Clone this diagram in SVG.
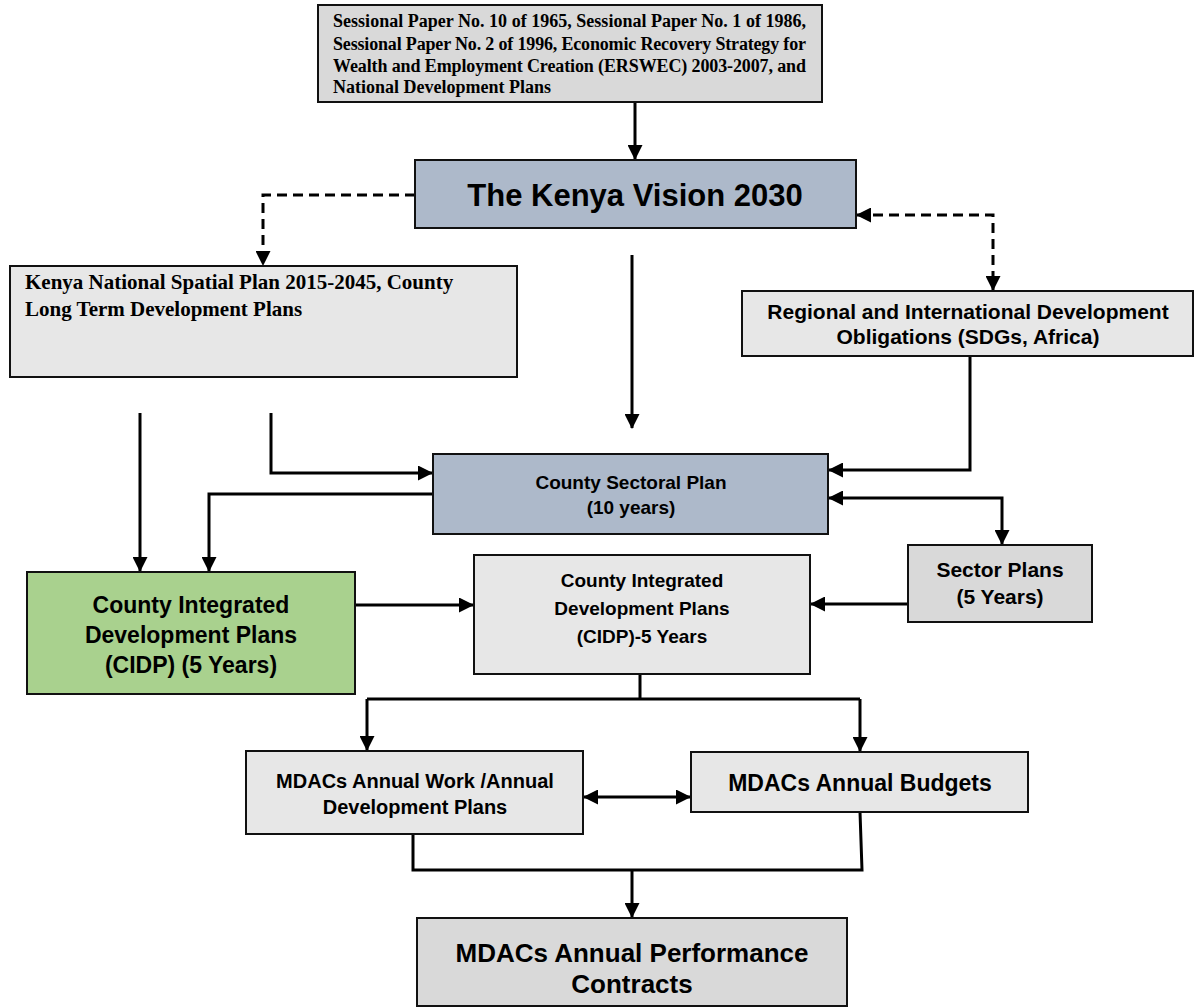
<svg xmlns="http://www.w3.org/2000/svg" width="1195" height="1008" viewBox="0 0 1195 1008">
<style>
.box{stroke:#111;stroke-width:2}
.g1{fill:#d9d9d9}.g2{fill:#e7e7e7}.bl{fill:#adb9ca}.gr{fill:#a9d18e}
.serif{font-family:"Liberation Serif","Times New Roman",serif;font-weight:bold;fill:#000}
.sans{font-family:"Liberation Sans",Arial,sans-serif;font-weight:bold;fill:#000;text-anchor:middle}
.c{fill:none;stroke:#000;stroke-width:3}
.d{stroke-dasharray:10 6}
</style>
<defs>
<marker id="ah" markerUnits="userSpaceOnUse" markerWidth="15" markerHeight="15" refX="14" refY="7.5" orient="auto-start-reverse" viewBox="0 0 15 15">
<path d="M0,0 L15,7.5 L0,15 z" fill="#000"/>
</marker>
</defs>
<g id="connectors">
<path class="c" d="M635,102 V159" marker-end="url(#ah)"/>
<path class="c d" d="M415,195 H263 V265" marker-end="url(#ah)"/>
<path class="c d" d="M857,215 H993 V290" marker-start="url(#ah)" marker-end="url(#ah)"/>
<path class="c" d="M632,255 V428" marker-end="url(#ah)"/>
<path class="c" d="M140,413 V571" marker-end="url(#ah)"/>
<path class="c" d="M271,413 V473 H432" marker-end="url(#ah)"/>
<path class="c" d="M433,494 H209 V571" marker-end="url(#ah)"/>
<path class="c" d="M970,356 V470 H829" marker-end="url(#ah)"/>
<path class="c" d="M829,498 H1002 V544" marker-start="url(#ah)" marker-end="url(#ah)"/>
<path class="c" d="M908,604 H811" marker-end="url(#ah)"/>
<path class="c" d="M355,605 H473" marker-end="url(#ah)"/>
<path class="c" d="M640,675 V699"/>
<path class="c" d="M367,699 H860"/>
<path class="c" d="M367,699 V750" marker-end="url(#ah)"/>
<path class="c" d="M860,699 V751" marker-end="url(#ah)"/>
<path class="c" d="M584,797 H690" marker-start="url(#ah)" marker-end="url(#ah)"/>
<path class="c" d="M413,834 V870 H862 L860,812"/>
<path class="c" d="M632,870 V917" marker-end="url(#ah)"/>
</g>
<g id="n-sessional">
<rect class="box g1" x="318" y="5" width="504" height="97"/>
<text class="serif" font-size="18" x="333" y="27" textLength="473" lengthAdjust="spacing">Sessional Paper No. 10 of 1965, Sessional Paper No. 1 of 1986,</text>
<text class="serif" font-size="18" x="333" y="50" textLength="473" lengthAdjust="spacing">Sessional Paper No. 2 of 1996, Economic Recovery Strategy for</text>
<text class="serif" font-size="18" x="333" y="72" textLength="473" lengthAdjust="spacing">Wealth and Employment Creation (ERSWEC) 2003-2007, and</text>
<text class="serif" font-size="18" x="333" y="93">National Development Plans</text>
</g>
<g id="n-vision">
<rect class="box bl" x="415" y="160" width="441" height="68"/>
<text class="sans" font-size="31" x="635" y="206">The Kenya Vision 2030</text>
</g>
<g id="n-spatial">
<rect class="box g2" x="10" y="266" width="507" height="111"/>
<text class="serif" font-size="21" x="25" y="289">Kenya National Spatial Plan 2015-2045, County</text>
<text class="serif" font-size="21" x="25" y="316">Long Term Development Plans</text>
</g>
<g id="n-regional">
<rect class="box g2" x="742" y="291" width="451" height="65"/>
<text class="sans" font-size="21" x="968" y="319">Regional and International Development</text>
<text class="sans" font-size="21" x="968" y="344">Obligations (SDGs, Africa)</text>
</g>
<g id="n-sectoral">
<rect class="box bl" x="433" y="454" width="395" height="80"/>
<text class="sans" font-size="19" x="631" y="489">County Sectoral Plan</text>
<text class="sans" font-size="19" x="631" y="514">(10 years)</text>
</g>
<g id="n-sector">
<rect class="box g1" x="908" y="545" width="184" height="77"/>
<text class="sans" font-size="21" x="1000" y="577">Sector Plans</text>
<text class="sans" font-size="21" x="1000" y="604">(5 Years)</text>
</g>
<g id="n-cidp-green">
<rect class="box gr" x="27" y="572" width="328" height="122"/>
<text class="sans" font-size="23" x="191" y="613">County Integrated</text>
<text class="sans" font-size="23" x="191" y="643">Development Plans</text>
<text class="sans" font-size="23" x="191" y="673">(CIDP) (5 Years)</text>
</g>
<g id="n-cidp-gray">
<rect class="box g2" x="474" y="555" width="336" height="119"/>
<text class="sans" font-size="19" x="642" y="587">County Integrated</text>
<text class="sans" font-size="19" x="642" y="615">Development Plans</text>
<text class="sans" font-size="19" x="642" y="643">(CIDP)-5 Years</text>
</g>
<g id="n-work">
<rect class="box g2" x="246" y="751" width="337" height="83"/>
<text class="sans" font-size="20" x="415" y="788">MDACs Annual Work /Annual</text>
<text class="sans" font-size="20" x="415" y="814">Development Plans</text>
</g>
<g id="n-budgets">
<rect class="box g2" x="691" y="752" width="337" height="60"/>
<text class="sans" font-size="23" x="860" y="791">MDACs Annual Budgets</text>
</g>
<g id="n-performance">
<rect class="box g1" x="417" y="918" width="430" height="88"/>
<text class="sans" font-size="26" x="632" y="962">MDACs Annual Performance</text>
<text class="sans" font-size="26" x="632" y="993">Contracts</text>
</g>
</svg>
